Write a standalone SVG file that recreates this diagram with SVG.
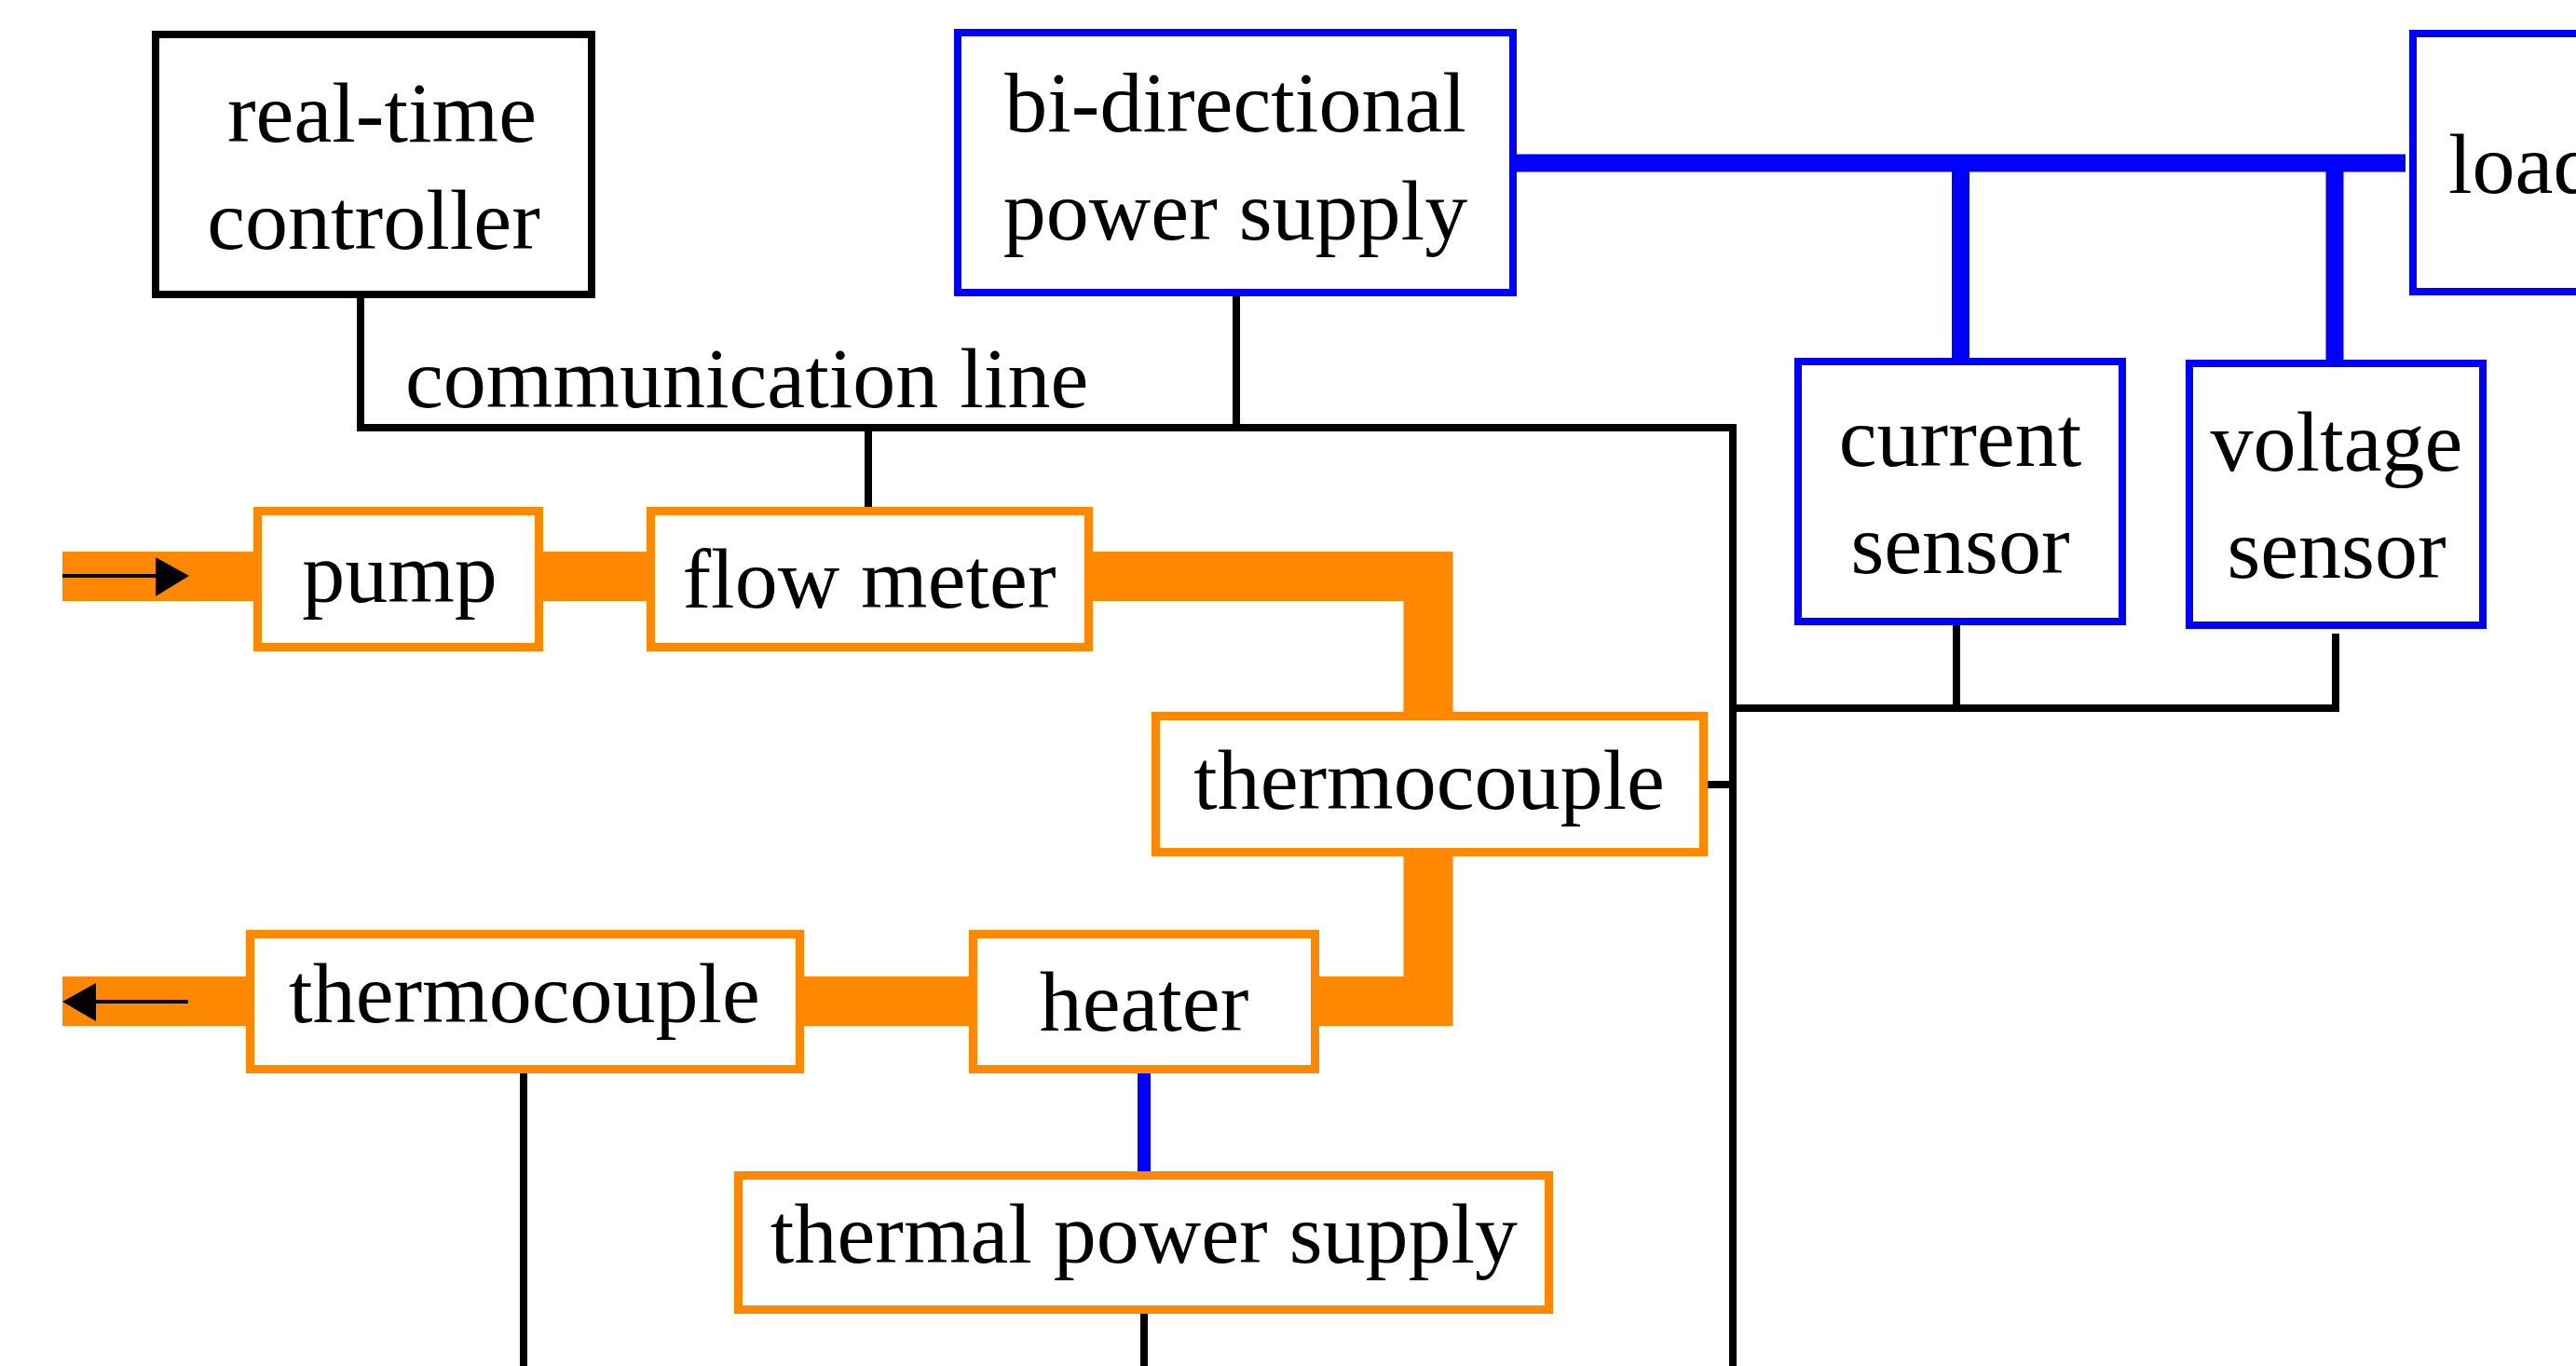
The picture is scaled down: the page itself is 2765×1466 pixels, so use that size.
<svg xmlns="http://www.w3.org/2000/svg" width="2765" height="1466" viewBox="0 0 2765 1466">
<style>
text{font-family:"Liberation Serif","Times New Roman",serif;font-size:92px;fill:#000;text-anchor:middle}
.bk{fill:#fff;stroke:#000;stroke-width:8}
.bl{fill:#fff;stroke:#0000ff;stroke-width:8}
.or{fill:#fff;stroke:#ff8800;stroke-width:9}
.wire{fill:none;stroke:#000;stroke-width:8;stroke-linejoin:miter;stroke-linecap:butt}
.pipe{fill:none;stroke:#ff8800;stroke-width:53;stroke-linejoin:miter;stroke-linecap:butt}
.bus{fill:none;stroke:#0000ff;stroke-width:19;stroke-linecap:butt}
</style>
<rect width="2765" height="1466" fill="#fff"/>
<g id="connectors">
<path class="pipe" d="M67,618.5 H1533 V1074.5 H67"/>
<path class="bus" d="M1628,175 H2582"/>
<path class="bus" d="M2104.5,175 V384"/>
<path class="bus" d="M2506,175 V386"/>
<path class="bus" style="stroke-width:14" d="M1228,1152 V1257"/>
<path class="wire" d="M387,320 V459 H1860 V1466"/>
<path class="wire" d="M1327,318 V459"/>
<path class="wire" d="M932,459 V544"/>
<path class="wire" d="M1833,842 H1860"/>
<path class="wire" d="M2100,671 V760"/>
<path class="wire" d="M1860,760 H2507 V680"/>
<path class="wire" d="M562,1152 V1466"/>
<path class="wire" d="M1228,1410 V1466"/>
<path class="wire" style="stroke-width:4" d="M67,618 H170"/>
<polygon points="167,598 203,618 167,640" fill="#000"/>
<path class="wire" style="stroke-width:4" d="M100,1075 H202"/>
<polygon points="103,1055 67,1075 103,1096" fill="#000"/>
</g>
<g id="controller">
<rect class="bk" x="167" y="37" width="468" height="279"/>
<text x="410" y="152">real-time</text>
<text x="401" y="267">controller</text>
</g>
<text id="comm-label" x="454" y="437" style="text-anchor:start" transform="translate(-19,0)">communication line</text>
<g id="bidir">
<rect class="bl" x="1028" y="35" width="596" height="279"/>
<text x="1326" y="141">bi-directional</text>
<text x="1326" y="257">power supply</text>
</g>
<g id="load">
<rect class="bl" x="2590" y="36" width="300" height="277"/>
<text x="2628" y="207" style="text-anchor:start">load</text>
</g>
<g id="current-sensor">
<rect class="bl" x="1930" y="388" width="348" height="279"/>
<text x="2104" y="500">current</text>
<text x="2104" y="615">sensor</text>
</g>
<g id="voltage-sensor">
<rect class="bl" x="2350" y="390" width="315" height="281"/>
<text x="2508" y="505">voltage</text>
<text x="2508" y="620">sensor</text>
</g>
<g id="pump">
<rect class="or" x="276.5" y="548.5" width="302" height="146"/>
<text x="429" y="646">pump</text>
</g>
<g id="flow-meter">
<rect class="or" x="698.5" y="548.5" width="470" height="146"/>
<text x="933" y="652">flow meter</text>
</g>
<g id="thermocouple-1">
<rect class="or" x="1240.5" y="768.5" width="588" height="146"/>
<text x="1534" y="868">thermocouple</text>
</g>
<g id="heater">
<rect class="or" x="1044.5" y="1002.5" width="367" height="145"/>
<text x="1228" y="1106">heater</text>
</g>
<g id="thermocouple-2">
<rect class="or" x="268.5" y="1002.5" width="590" height="145"/>
<text x="563" y="1097">thermocouple</text>
</g>
<g id="thermal-power-supply">
<rect class="or" x="792.5" y="1261.5" width="870" height="144"/>
<text x="1228" y="1355">thermal power supply</text>
</g>
</svg>
